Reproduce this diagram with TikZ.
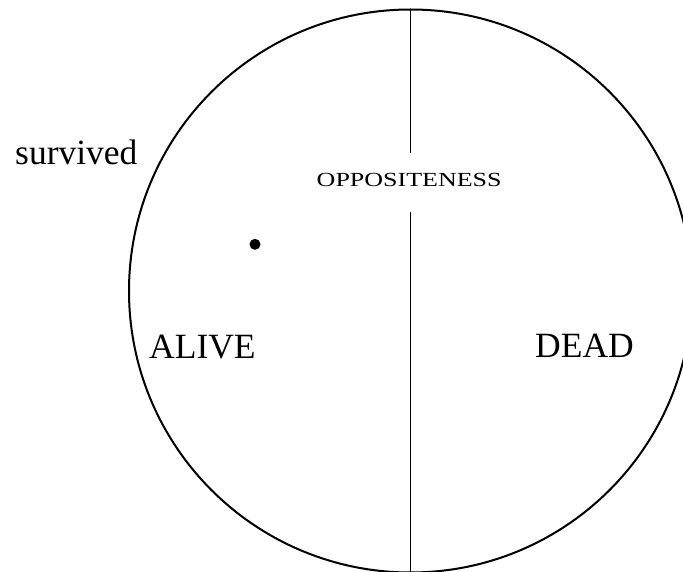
\documentclass[tikz,border=0pt]{standalone}
\usepackage{fontspec}
\setmainfont{Liberation Serif}
\begin{document}
\begin{tikzpicture}[x=1pt,y=-1pt,
  lbl/.style={inner sep=0pt,font=\fontsize{35.5}{40}\selectfont},
  small/.style={inner sep=0pt,font=\fontsize{20}{24}\selectfont},
  rim/.style={line width=2pt},
  divider/.style={line width=1pt}]
\useasboundingbox (0,0) rectangle (683,572);
\clip (0,0) rectangle (683,572);
\fill[white] (0,0) rectangle (683,572);
\node[draw,rim,circle,minimum size=563pt,inner sep=0pt] (c) at (410.5,291) {};
\coordinate (t1) at (410.5,10);
\coordinate (t2) at (410.5,153);
\coordinate (b1) at (410.5,212);
\coordinate (b2) at (410.5,572);
\draw[divider] (t1) -- (t2);
\draw[divider] (b1) -- (b2);
\node[small,anchor=base] (opp) at (409.2,186.7) {\scalebox{1.3}[1]{OPPOSITENESS}};
\node[lbl,anchor=base west] (surv) at (15,164.3) {survived};
\node[lbl,anchor=base west] (alive) at (149,358.3) {ALIVE};
\node[lbl,anchor=base west] (dead) at (535,357.7) {DEAD};
\fill (255,244.3) circle (5.5pt) node[inner sep=0pt] (dot) {};
\end{tikzpicture}
\end{document}
